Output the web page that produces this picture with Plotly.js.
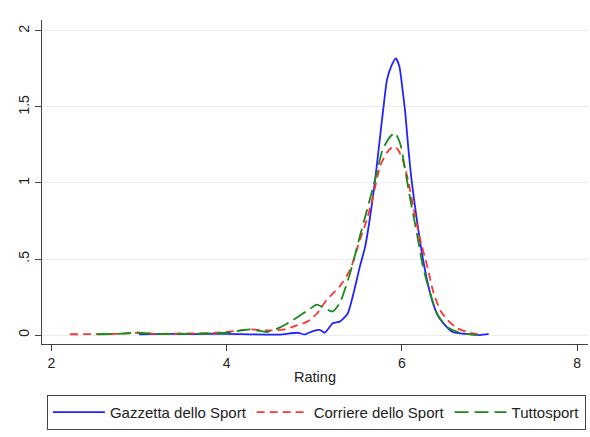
<!DOCTYPE html>
<html>
<head>
<meta charset="utf-8">
<script src="https://cdn.plot.ly/plotly-3.0.1.min.js"></script>
<style>html,body{margin:0;padding:0;background:#fff;}#chart{width:590px;height:437px;}</style>
</head>
<body>
<div id="chart"></div>
<script>
// Kernel density of ratings by newspaper
const seriesNames = ["Gazzetta dello Sport", "Corriere dello Sport", "Tuttosport"];

const gazzettaX = [3.00, 3.3, 3.6, 4.0, 4.3, 4.61, 4.72, 4.81, 4.89, 4.985, 5.065, 5.12, 5.21, 5.29, 5.38, 5.45, 5.52, 5.58, 5.63, 5.69, 5.74, 5.79, 5.83, 5.88, 5.93, 5.97, 6.01, 6.04, 6.07, 6.11, 6.17, 6.24, 6.32, 6.40, 6.47, 6.58, 6.74, 6.89, 6.99];
const gazzettaY = [0.005, 0.008, 0.006, 0.008, 0.004, 0.003, 0.011, 0.015, 0.004, 0.026, 0.033, 0.015, 0.077, 0.088, 0.14, 0.28, 0.45, 0.58, 0.75, 1.0, 1.25, 1.5, 1.68, 1.77, 1.82, 1.77, 1.6, 1.45, 1.25, 1.02, 0.76, 0.5, 0.28, 0.14, 0.08, 0.02, 0.007, 0.0, 0.007];

const corriereX = [2.21, 2.5, 2.8, 2.98, 3.2, 3.5, 3.8, 4.0, 4.27, 4.46, 4.64, 4.76, 4.92, 5.03, 5.14, 5.29, 5.41, 5.52, 5.60, 5.67, 5.75, 5.83, 5.90, 5.955, 6.01, 6.07, 6.13, 6.21, 6.29, 6.36, 6.44, 6.52, 6.63, 6.78, 6.92];
const corriereY = [0.005, 0.006, 0.008, 0.015, 0.008, 0.01, 0.012, 0.02, 0.037, 0.03, 0.035, 0.055, 0.088, 0.14, 0.23, 0.32, 0.43, 0.625, 0.76, 0.91, 1.11, 1.2, 1.24, 1.22, 1.15, 1.02, 0.84, 0.625, 0.45, 0.28, 0.16, 0.10, 0.045, 0.015, 0.0];

const tuttoX = [2.52, 2.75, 2.98, 3.2, 3.5, 3.8, 4.0, 4.27, 4.46, 4.61, 4.76, 4.92, 5.03, 5.12, 5.21, 5.29, 5.41, 5.52, 5.61, 5.71, 5.78, 5.86, 5.92, 5.98, 6.03, 6.09, 6.17, 6.24, 6.32, 6.40, 6.51, 6.66, 6.86];
const tuttoY = [0.005, 0.008, 0.015, 0.008, 0.007, 0.01, 0.015, 0.037, 0.02, 0.05, 0.10, 0.16, 0.20, 0.175, 0.155, 0.21, 0.41, 0.65, 0.84, 1.06, 1.22, 1.30, 1.33, 1.26, 1.11, 0.91, 0.67, 0.45, 0.28, 0.14, 0.055, 0.015, 0.0];

const xTickVals = [2, 4, 6, 8];
const xTickText = ["2", "4", "6", "8"];
const yTickVals = [0, 0.5, 1, 1.5, 2];
const yTickText = ["0", ".5", "1", "1.5", "2"];

const font = "Arial, 'Liberation Sans', sans-serif";

const traces = [
  {x: gazzettaX, y: gazzettaY, name: seriesNames[0], type: "scatter", mode: "lines",
   line: {color: "#2323ff", width: 1.8, shape: "spline", smoothing: 0.6}},
  {x: corriereX, y: corriereY, name: seriesNames[1], type: "scatter", mode: "lines",
   line: {color: "#ff3333", width: 1.8, dash: "8px,5px", shape: "spline", smoothing: 0.6}},
  {x: tuttoX, y: tuttoY, name: seriesNames[2], type: "scatter", mode: "lines",
   line: {color: "#1a8a1a", width: 1.8, dash: "14px,6px", shape: "spline", smoothing: 0.6}}
];

const layout = {
  width: 590, height: 437,
  margin: {l: 42, r: 2, t: 20, b: 93, pad: 0, autoexpand: false},
  paper_bgcolor: "#ffffff", plot_bgcolor: "#ffffff",
  font: {family: font, size: 14, color: "#222"},
  showlegend: true,
  xaxis: {
    range: [1.892, 8.124], tickvals: xTickVals, ticktext: xTickText,
    showgrid: false, zeroline: false, showline: true, linecolor: "#444", linewidth: 1,
    ticks: "outside", ticklen: 6, tickcolor: "#444", tickwidth: 1,
    tickfont: {family: font, size: 14, color: "#222"},
    title: {text: "Rating", font: {family: font, size: 14.5, color: "#222"}, standoff: 2}
  },
  yaxis: {
    range: [-0.059, 2.072], tickvals: yTickVals, ticktext: yTickText, tickangle: -90,
    showgrid: true, gridcolor: "#e6eef1", gridwidth: 1, zeroline: false,
    showline: true, linecolor: "#444", linewidth: 1,
    ticks: "outside", ticklen: 6, tickcolor: "#444", tickwidth: 1,
    tickfont: {family: font, size: 14, color: "#222"}
  },
  legend: {
    orientation: "h", x: 0.009, xanchor: "left", y: -0.157, yanchor: "top",
    bordercolor: "#444", borderwidth: 1, bgcolor: "#fff",
    font: {family: font, size: 15, color: "#222"},
    itemwidth: 52, tracegroupgap: 0
  }
};

Plotly.newPlot("chart", traces, layout, {displayModeBar: false, staticPlot: true});
</script>
</body>
</html>
